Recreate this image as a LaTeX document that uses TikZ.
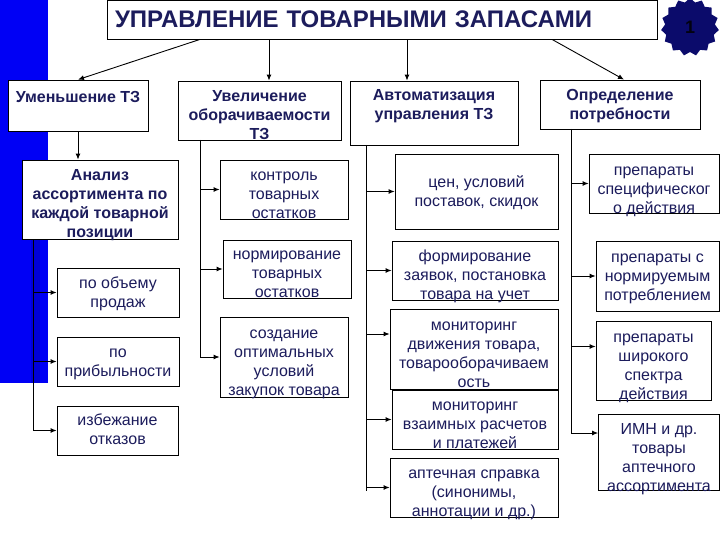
\documentclass[tikz,border=0pt]{standalone}
\usepackage{fontspec}
\setmainfont{Liberation Sans}
\usetikzlibrary{arrows.meta,shapes.geometric}
\definecolor{inkblue}{HTML}{1C1C5C}
\definecolor{sealblue}{HTML}{0B0B6B}
\definecolor{barblue}{HTML}{0000F5}
% text block of a box, lowered by #1 inside its frame
\newcommand{\inbox}[2][0pt]{\raisebox{\dimexpr-6.5pt-#1\relax}[0pt][0pt]{\makebox[0pt]{\begin{tabular}{@{}c@{}}#2\end{tabular}}}}
\tikzset{
  box/.style={draw, line width=0.8pt, fill=white, inner sep=0pt,
    text=inkblue, font=\fontsize{16}{19}\selectfont},
  headbox/.style={box, font=\bfseries\fontsize{16}{19}\selectfont},
  link/.style={line width=0.9pt, -{Latex[length=6pt,width=5pt]}},
  trunk/.style={line width=0.8pt}
}
\begin{document}
\begin{tikzpicture}[x=1pt,y=-1pt]
\useasboundingbox (0,0) rectangle (720,540);
\fill[barblue] (0,0) rectangle (48,383);
\fill[blue!85!black] (31,240) rectangle (40,383);

\node[box, minimum width=550pt, minimum height=39pt, text width=534pt, align=left,
  font=\bfseries\fontsize{24}{26}\selectfont] (title) at (382,19.5) {УПРАВЛЕНИЕ ТОВАРНЫМИ ЗАПАСАМИ};
\node[star, star points=15, star point ratio=1.16, fill=sealblue, minimum size=58pt, inner sep=0pt,
  text=black!85!sealblue, font=\bfseries\fontsize{18}{20}\selectfont] (seal) at (690,27) {1};

% first level
\node[headbox, minimum width=140pt, minimum height=51pt] (umen) at (78,105.5) {\inbox[-8.5pt]{Уменьшение ТЗ}};
\node[headbox, minimum width=163pt, minimum height=59pt] (uvel) at (259.5,110.5) {\inbox[4.5pt]{Увеличение\\оборачиваемости\\ТЗ}};
\node[headbox, minimum width=168pt, minimum height=64pt] (avto) at (434,113) {\inbox[-9pt]{Автоматизация\\управления ТЗ}};
\node[headbox, minimum width=160pt, minimum height=49pt] (opred) at (620,104.5) {\inbox{Определение\\потребности}};

% left column
\node[headbox, minimum width=156pt, minimum height=79pt] (analiz) at (100,199.5) {\inbox[4pt]{Анализ\\ассортимента по\\каждой товарной\\позиции}};
\node[box, minimum width=122pt, minimum height=49pt] (obem) at (118,292.5) {\inbox{по объему\\продаж}};
\node[box, minimum width=122pt, minimum height=49pt] (prib) at (118,361.5) {\inbox{по\\прибыльности}};
\node[box, minimum width=121pt, minimum height=49pt] (izbezh) at (117.5,430.5) {\inbox[-1pt]{избежание\\отказов}};

% second column
\node[box, minimum width=128pt, minimum height=59pt] (kontrol) at (284,189.5) {\inbox[4.5pt]{контроль\\товарных\\остатков}};
\node[box, minimum width=128pt, minimum height=58pt] (norm) at (287,269) {\inbox[3.7pt]{нормирование\\товарных\\остатков}};
\node[box, minimum width=128pt, minimum height=80pt] (sozd) at (284,357) {\inbox[4pt]{создание\\оптимальных\\условий\\закупок товара}};

% third column
\node[box, minimum width=163pt, minimum height=75pt] (tseny) at (476.5,191.5) {\inbox{цен, условий\\поставок, скидок}};
\node[box, minimum width=166pt, minimum height=59pt] (zayavki) at (475,270.5) {\inbox[4.5pt]{формирование\\заявок, постановка\\товара на учет}};
\node[box, minimum width=168pt, minimum height=80pt] (monit) at (474,349) {\inbox[4.5pt]{мониторинг\\движения товара,\\товарооборачиваем\\ость}};
\node[box, minimum width=166pt, minimum height=59pt] (raschet) at (475,419.5) {\inbox[4.5pt]{мониторинг\\взаимных расчетов\\и платежей}};
\node[box, minimum width=168pt, minimum height=59pt] (sprav) at (474,487.5) {\inbox[4.5pt]{аптечная справка\\(синонимы,\\аннотации и др.)}};

% fourth column
\node[box, minimum width=130pt, minimum height=59pt] (spec) at (654,183.5) {\inbox[5pt]{препараты\\специфическог\\о действия}};
\node[box, minimum width=123pt, minimum height=70pt] (normir) at (657.5,276) {\inbox{препараты с\\нормируемым\\потреблением}};
\node[box, minimum width=115pt, minimum height=79pt] (shir) at (653.5,360.5) {\inbox[4.5pt]{препараты\\широкого\\спектра\\действия}};
\node[box, minimum width=121pt, minimum height=76pt] (imn) at (659,452) {\inbox[5pt]{ИМН и др.\\товары\\аптечного\\ассортимента}};

\coordinate (t1) at (33,239);
\coordinate (t2) at (200,140);
\coordinate (t3) at (366,145);
\coordinate (t4) at (571,129);

\draw[link] ([xshift=-182pt]title.south) -- (umen.north);
\draw[link] ([xshift=-113pt]title.south) -- ([xshift=9.5pt]uvel.north);
\draw[link] ([xshift=25pt]title.south) -- ([xshift=-27pt]avto.north);
\draw[link] ([xshift=170pt]title.south) -- ([xshift=4pt]opred.north);
\draw[link] (umen.south) -- (umen.south |- analiz.north);

\draw[trunk] (t1) -- (t1 |- izbezh.west);
\draw[link] (t1 |- obem.west) -- (obem.west);
\draw[link] (t1 |- prib.west) -- (prib.west);
\draw[link] (t1 |- izbezh.west) -- (izbezh.west);

\draw[trunk] (t2) -- (t2 |- sozd.west);
\draw[link] (t2 |- kontrol.west) -- (kontrol.west);
\draw[link] (t2 |- norm.west) -- (norm.west);
\draw[link] (t2 |- sozd.west) -- (sozd.west);

\draw[trunk] (t3) -- ([yshift=-3pt]t3 |- sprav.west);
\draw[link] (t3 |- tseny.west) -- (tseny.west);
\draw[link] (t3 |- zayavki.west) -- (zayavki.west);
\draw[link] ([yshift=15pt]t3 |- monit.west) -- ([yshift=15pt]monit.west);
\draw[link] (t3 |- raschet.west) -- (raschet.west);
\draw[link] (t3 |- sprav.west) -- (sprav.west);

\draw[trunk] (t4) -- ([yshift=19pt]t4 |- imn.west);
\draw[link] (t4 |- spec.west) -- (spec.west);
\draw[link] (t4 |- normir.west) -- (normir.west);
\draw[link] ([yshift=14pt]t4 |- shir.west) -- ([yshift=14pt]shir.west);
\draw[link] ([yshift=19pt]t4 |- imn.west) -- ([yshift=19pt]imn.west);
\end{tikzpicture}
\end{document}
